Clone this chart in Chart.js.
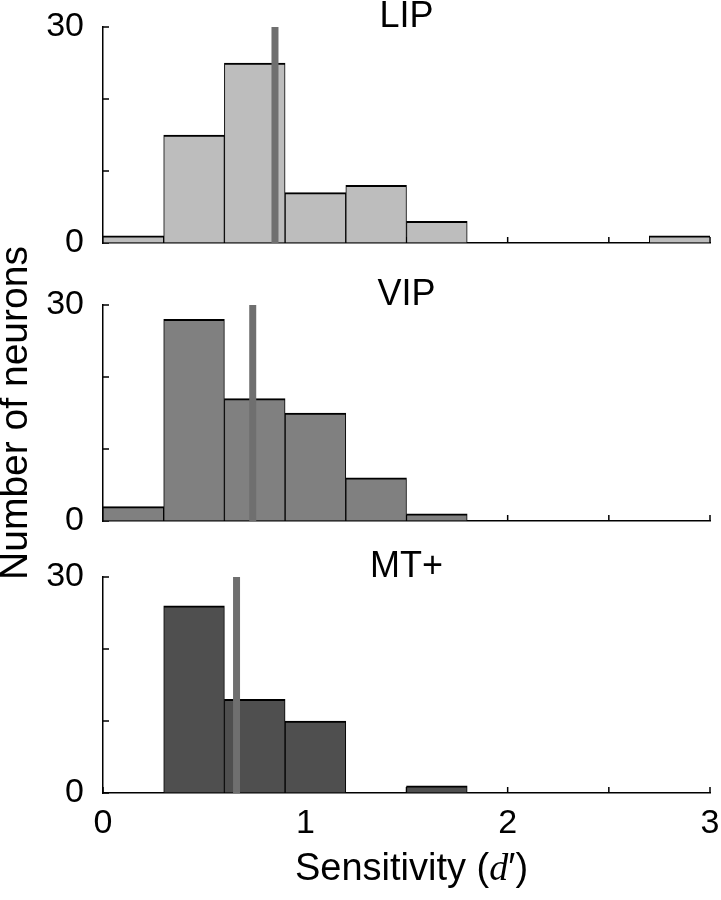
<!DOCTYPE html>
<html>
<head>
<meta charset="utf-8">
<script src="https://cdn.jsdelivr.net/npm/chart.js@4/dist/chart.umd.min.js"></script>
<style>
  body { margin: 0; background: #fff; width: 721px; height: 900px; position: relative; overflow: hidden; }
  canvas { position: absolute; left: 0; }
  #xtitle { position: absolute; left: 295px; top: 848px; font: 38px "Liberation Sans", Arial, sans-serif; line-height: 38px; white-space: nowrap; color: #000; }
  #xtitle i { font-family: "Liberation Serif", "Times New Roman", serif; }
</style>
</head>
<body>
<canvas id="lip" width="721" height="265" style="top:0px"></canvas>
<canvas id="mt" width="721" height="360" style="top:540px"></canvas>
<canvas id="vip" width="721" height="405" style="top:215px"></canvas>
<div id="xtitle">Sensitivity (<i>d</i>′)</div>
<script>
// histogram bins of d' (width 0.3), bin centres
const binCenters = [0.15, 0.45, 0.75, 1.05, 1.35, 1.65, 1.95, 2.25, 2.55, 2.85];

const lipCounts = [1, 15, 25, 7, 8, 3, null, null, null, 1];
const vipCounts = [2, 28, 17, 15, 6, 1, null, null, null, null];
const mtCounts = [null, 26, 13, 10, null, 1, null, null, null, null];

const lipMean = 0.85;
const vipMean = 0.74;
const mtMean = 0.66;

const xLabels = [0, 1, 2, 3];
const yLabels = [0, 30];

const FONT = '"Liberation Sans", Arial, sans-serif';

// small inward tick marks, like the original figure
const innerTicks = {
    id: 'innerTicks',
    beforeDatasetsDraw(chart) {
        const ctx = chart.ctx;
        const x = chart.scales.x, y = chart.scales.y;
        ctx.save();
        ctx.strokeStyle = '#000';
        ctx.lineWidth = 1.5;
        ctx.beginPath();
        x.ticks.forEach(t => {
            const px = x.getPixelForValue(t.value);
            ctx.moveTo(px, y.bottom);
            ctx.lineTo(px, y.bottom - 6);
        });
        y.ticks.forEach(t => {
            const py = y.getPixelForValue(t.value);
            ctx.moveTo(x.left, py);
            ctx.lineTo(x.left + 6, py);
        });
        ctx.stroke();
        ctx.restore();
    }
};

function makeChart(id, title, counts, mean, color, opts) {
    return new Chart(document.getElementById(id), {
        type: 'bar',
        data: {
            datasets: [{
                type: 'line',
                data: [{x: mean, y: 0}, {x: mean, y: 30}],
                borderColor: '#6f6f6f',
                borderWidth: 7,
                pointRadius: 0,
                order: 0
            }, {
                data: binCenters.map((c, i) => ({x: c, y: counts[i]})),
                backgroundColor: color,
                borderColor: '#000',
                borderWidth: {top: 2, left: 1, right: 1, bottom: 0},
                barPercentage: 1,
                categoryPercentage: 1,
                order: 1
            }]
        },
        options: {
            responsive: false,
            animation: false,
            layout: { padding: { top: opts.padTop, right: 11, left: 0, bottom: 0 } },
            plugins: {
                legend: { display: false },
                tooltip: { enabled: false },
                title: {
                    display: true,
                    fullSize: false,
                    text: title,
                    color: '#000',
                    padding: 0,
                    font: { family: FONT, size: 36, weight: 'normal', lineHeight: 0.534 }
                }
            },
            scales: {
                x: {
                    type: 'linear',
                    min: 0,
                    max: 3,
                    offset: false,
                    // transparent tick marks only serve as label spacing
                    grid: { display: true, drawOnChartArea: false, drawTicks: true, tickLength: 10, tickColor: 'rgba(0,0,0,0)' },
                    border: { display: true, color: '#000', width: 1.5 },
                    ticks: {
                        display: opts.showX,
                        stepSize: 0.5,
                        padding: 0,
                        color: '#000',
                        maxRotation: 0,
                        autoSkip: false,
                        font: { family: FONT, size: 34 },
                        callback: v => xLabels.includes(v) ? v : ''
                    },
                    afterFit: s => { s.height = opts.xHeight; }
                },
                y: {
                    min: 0,
                    max: 30,
                    grid: { display: true, drawOnChartArea: false, drawTicks: true, tickLength: 19, tickColor: 'rgba(0,0,0,0)' },
                    border: { display: true, color: '#000', width: 1.5 },
                    ticks: {
                        stepSize: 10,
                        padding: 0,
                        color: '#000',
                        font: { family: FONT, size: 34 },
                        callback: v => yLabels.includes(v) ? v : ''
                    },
                    title: {
                        display: opts.yTitle,
                        text: 'Number of neurons',
                        color: '#000',
                        padding: 0,
                        font: { family: FONT, size: 39, lineHeight: 0.85 }
                    },
                    afterFit: s => { s.width = 103; }
                }
            }
        },
        plugins: [innerTicks]
    });
}

makeChart('lip', 'LIP', lipCounts, lipMean, '#bdbdbd', {padTop: 7.8, xHeight: 22, showX: false, yTitle: false});
makeChart('vip', 'VIP', vipCounts, vipMean, '#808080', {padTop: 70.8, xHeight: 99, showX: false, yTitle: true});
makeChart('mt', 'MT+', mtCounts, mtMean, '#4f4f4f', {padTop: 17.8, xHeight: 107, showX: true, yTitle: false});
</script>
</body>
</html>
